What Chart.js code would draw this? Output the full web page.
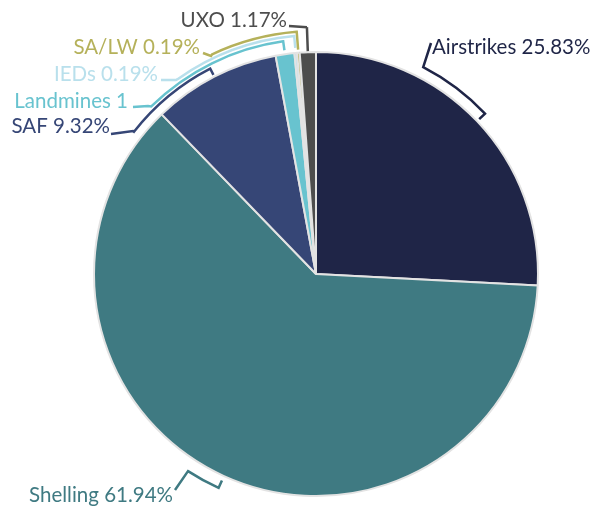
<!DOCTYPE html>
<html>
<head>
<meta charset="utf-8">
<script src="https://cdn.jsdelivr.net/npm/chart.js@4"></script>
<style>
  html, body { margin: 0; padding: 0; background: #fff; }
  #wrap { width: 606px; height: 510px; }
</style>
</head>
<body>
<div id="wrap"><canvas id="pieGraph" width="606" height="510"></canvas></div>
<script>
const categories = ["Airstrikes", "Shelling", "SAF", "Landmines", "IEDs", "SA/LW", "UXO"];
const values = [25.83, 61.94, 9.32, 1.36, 0.19, 0.19, 1.17];
// label text as shown (the Landmines one is cut off in the original)
const labelTexts = ["Airstrikes 25.83%", "Shelling 61.94%", "SAF 9.32%", "Landmines 1", "IEDs 0.19%", "SA/LW 0.19%", "UXO 1.17%"];
const colors = ["#1f2547", "#3f7a82", "#364676", "#68c3cf", "#b9e0ec", "#b5b15a", "#4d4d4d"];

// callout layout: text anchor, start of leader, corner angle (deg clockwise from top),
// arc offset beyond the pie edge, tick end offset
const callouts = [
    {x: 432, y: 54, align: 'left', sx: 431, sy: 43, corner: 27.4, off: 11, tick: 3},
    {x: 173, y: 502, align: 'right', sx: 175, sy: 490, corner: 213, off: 13, tick: 5},
    {x: 110, y: 133, align: 'right', sx: 111, sy: 134, ex: 133, ey: 131, corner: 308, off: 9, tick: 2},
    {x: 128, y: 108, align: 'right', sx: 133, sy: 107, ex: 148, ey: 106, corner: 315.5, off: 13, tick: 4},
    {x: 158, y: 81, align: 'right', sx: 161, sy: 80, ex: 176, ey: 80, corner: 324.6, off: 17, tick: 5},
    {x: 200, y: 54, align: 'right', sx: 203, sy: 53, ex: 211, ey: 56, corner: 334.7, off: 21, tick: 3},
    {x: 287, y: 27, align: 'right', sx: 289, sy: 26, corner: 357.9, off: 25, tick: 1}
];

const calloutPlugin = {
    id: 'callouts',
    afterDatasetsDraw(chart) {
        const ctx = chart.ctx;
        const arcs = chart.getDatasetMeta(0).data;
        ctx.save();
        arcs.forEach((arc, i) => {
            const c = callouts[i];
            const r = arc.outerRadius;
            const mid = (arc.startAngle + arc.endAngle) / 2;
            const cor = (c.corner - 90) * Math.PI / 180;
            const R = r + c.off;
            ctx.strokeStyle = colors[i];
            ctx.lineWidth = 2.5;
            ctx.lineJoin = 'miter';
            ctx.beginPath();
            ctx.moveTo(c.sx, c.sy);
            if (c.ex !== undefined) ctx.lineTo(c.ex, c.ey);
            ctx.lineTo(arc.x + R * Math.cos(cor), arc.y + R * Math.sin(cor));
            ctx.arc(arc.x, arc.y, R, cor, mid, cor > mid);
            ctx.lineTo(arc.x + (r + c.tick) * Math.cos(mid), arc.y + (r + c.tick) * Math.sin(mid));
            ctx.stroke();

            ctx.fillStyle = colors[i];
            ctx.font = '20.5px Lato';
            ctx.textAlign = c.align;
            ctx.textBaseline = 'alphabetic';
            ctx.fillText(labelTexts[i], c.x, c.y);
        });
        ctx.restore();
    }
};

const pieCtx = document.getElementById('pieGraph').getContext('2d');

new Chart(pieCtx, {
    type: 'pie',
    data: {
        labels: categories,
        datasets: [{
            data: values,
            backgroundColor: colors,
            borderColor: '#e3e3e3',
            borderWidth: 2
        }]
    },
    options: {
        responsive: false,
        animation: false,
        layout: {
            padding: {top: 51, bottom: 13, left: 93, right: 67}
        },
        plugins: {
            legend: { display: false },
            tooltip: { enabled: false }
        }
    },
    plugins: [calloutPlugin]
});
</script>
</body>
</html>
